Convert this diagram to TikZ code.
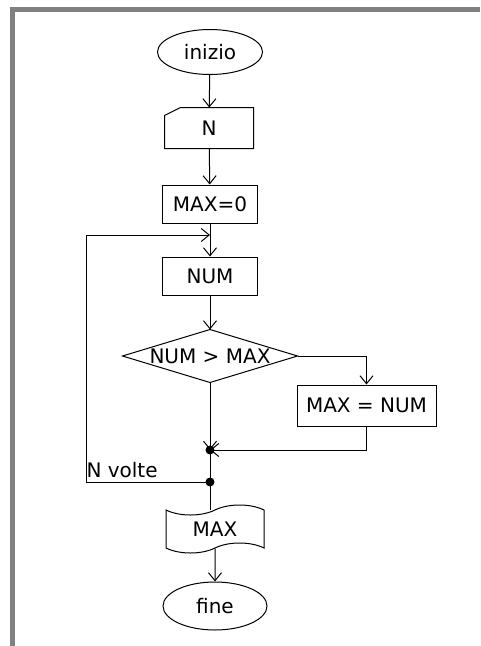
\documentclass[tikz,border=0pt]{standalone}
\usepackage{fontspec}
\setmainfont{DejaVu Sans}
\usetikzlibrary{shapes.geometric, shapes.symbols, arrows.meta}

\begin{document}
\begin{tikzpicture}[x = 1pt, y = -1pt, font = \fontsize{20}{24}\selectfont, line width = 1pt,
    term/.style = {draw, ellipse, minimum width = 105pt, minimum height = 45pt, inner sep = 0pt},
    box/.style = {draw, rectangle, minimum width = 95pt, minimum height = 38pt, inner sep = 0pt},
    a/.style = {-{Straight Barb[length = 8pt, width = 13pt]}}]
      \useasboundingbox (0, 0) rectangle (480, 646);
      \draw [gray, line width = 5pt] (12.5, 646) |- (480, 9.5);

      \node [term] (start) at (210, 52) {inizio};
      \node [minimum width = 88pt, minimum height = 40pt, inner sep = 0pt] (n) at (209, 128) {\raisebox{-3pt}{N}};
      \draw (n.south west) -- (n.south east) -- (n.north east) -- ([xshift = 16pt]n.north west) -- ([yshift = -8pt]n.north west) -- cycle;
      \node [box] (init) at (210, 204) {MAX=0};
      \node [box] (num) at (210, 276) {NUM};
      \node [minimum width = 174pt, minimum height = 52pt, inner sep = 0pt] (dec) at (210, 356) {NUM > MAX};
      \draw (dec.west) -- (dec.north) -- (dec.east) -- (dec.south) -- cycle;
      \node [box, minimum width = 139pt, minimum height = 41pt] (upd) at (366.5, 405.5) {MAX = NUM};
      \node [draw, tape, minimum width = 98pt, minimum height = 48pt, tape bend height = 10pt, inner sep = 0pt] (out) at (215, 529) {MAX};
      \node [term, minimum width = 104pt, minimum height = 48pt] (fine) at (215, 606) {fine};

      \coordinate (d1) at (210, 450);
      \coordinate (d2) at (210, 482);
      \coordinate (lp) at (86, 235);
      \coordinate (jn) at (210, 235);
      \node [anchor = west, inner sep = 0pt] (nv) at (86, 470) {N volte};

      \draw [a] (start) -- (n);
      \draw [a] (n) -- (init);
      \draw [a] (init) -- (num);
      \draw [a] (num) -- (dec.north);
      \draw [a] (dec.east) -| (upd);
      \draw [a] (upd) |- (d1);
      \draw [a] (dec.south) -- (d1);
      \draw (d1) -- (d2);
      \draw [a] (d2) -| (lp) -- (jn);
      \draw (d2) -- (out.north -| d2);
      \draw [a] (out) -- (fine);

      \foreach \d in {d1, d2} {
        \fill (\d) circle (4.5pt);
      }
    \end{tikzpicture}
\end{document}
